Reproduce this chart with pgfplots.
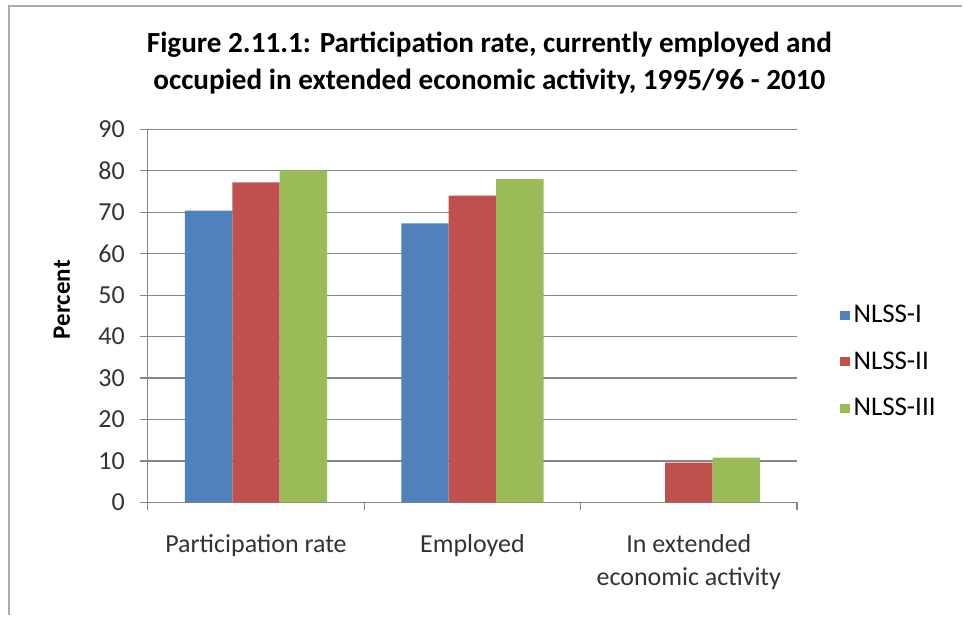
\documentclass[border=0pt]{standalone}
\usepackage{fontspec}
\setmainfont{Carlito}
\usepackage{pgfplots}
\pgfplotsset{compat=1.18}
\definecolor{nlssone}{HTML}{4F81BD}
\definecolor{nlsstwo}{HTML}{C0504D}
\definecolor{nlssthree}{HTML}{9BBB59}
\definecolor{gridgray}{HTML}{868686}

\begin{document}
\begin{tikzpicture}[x=0.5pt,y=0.5pt]
\path (0,0) rectangle (963,616);
\draw[gray!65, line width=1.2pt] (9,0) -- (9,610) -- (963,610);
\node[font=\bfseries\fontsize{14.6}{18.5}\selectfont, align=center] at (490,553)
  {Figure 2.11.1: Participation rate, currently employed and\\occupied in extended economic activity, 1995/96 - 2010};
\node[rotate=90, font=\bfseries\fontsize{12.5}{14}\selectfont] at (62,316) {Percent};
\begin{axis}[
    at={(74pt,56.5pt)}, anchor=south west,
    scale only axis, width=325pt, height=186.75pt,
    ybar=0pt, bar width=23.75pt,
    xmin=-0.5, xmax=2.5, ymin=0, ymax=90,
    ytick={0,10,...,90},
    xtick={0,1,2},
    xticklabels={Participation rate,Employed,{In extended\\economic activity}},
    minor xtick={-0.5,0.5,1.5,2.5},
    major x tick style={draw=none},
    minor x tick style={gridgray, line width=0.6pt},
    y tick style={gridgray, line width=0.6pt},
    tick align=outside,
    major tick length=4pt, minor tick length=4pt,
    axis lines*=left,
    axis line style={gridgray, line width=0.6pt},
    ymajorgrids, grid style={gridgray, line width=0.6pt},
    /pgf/number format/assume math mode=true,
    tick label style={text=black!80},
    yticklabel style={font=\fontsize{13}{15}\selectfont, xshift=-4pt},
    xticklabel style={font=\fontsize{13}{16.5}\selectfont, align=center, anchor=north, yshift=-8.5pt},
    legend style={at={(rel axis cs:1.057,0.377)}, anchor=west, draw=none,
        font=\fontsize{13.5}{15}\selectfont, row sep=9pt,
        /tikz/every even column/.append style={column sep=1pt}},
    legend cell align=left,
    legend image code/.code={\fill[#1] (0pt,-2.3pt) rectangle (4.6pt,2.3pt);},
]
\addplot[fill=nlssone, draw=none] coordinates {(0,70.4) (1,67.3)};
\addlegendentry{NLSS-I}
\addplot[fill=nlsstwo, draw=none] coordinates {(0,77.2) (1,74.0) (2,9.6)};
\addlegendentry{NLSS-II}
\addplot[fill=nlssthree, draw=none] coordinates {(0,80.1) (1,78.0) (2,10.8)};
\addlegendentry{NLSS-III}
\end{axis}
\end{tikzpicture}
\end{document}
